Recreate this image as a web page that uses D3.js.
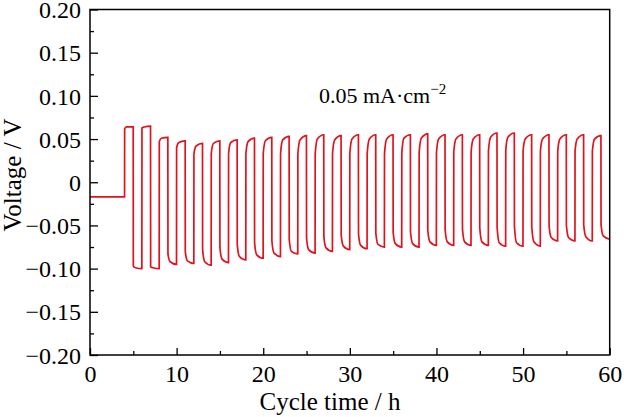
<!DOCTYPE html>
<html>
<head>
<meta charset="utf-8">
<script src="https://cdn.jsdelivr.net/npm/d3@7"></script>
<style>
  html, body { margin: 0; padding: 0; background: #fff; }
  text { font-family: "Liberation Serif", "Times New Roman", serif; fill: #000; }
</style>
</head>
<body>
<svg id="chart" width="624" height="417"></svg>
<script>
// ---- data ----
const restStartH = 0;
const restEndH = 4;
const restVoltage = -0.017;
const cycleStartH = [4,6,8,10,12,14,16,18,20,22,24,26,28,30,32,34,36,38,40,42,44,46,48,50,52,54,56,58];
const halfLengthH = 1;
const kneeOffsetH = 0.25;
// charge (positive) half-cycle: value just after switching, at the knee, at the end
const posStart = [0.062,0.063,0.047,0.040,0.033,0.033,0.033,0.033,0.033,0.033,0.033,0.033,0.033,0.033,0.033,0.033,0.034,0.034,0.034,0.035,0.035,0.036,0.037,0.036,0.036,0.036,0.036,0.036];
const posKnee  = [0.064,0.064,0.051,0.046,0.042,0.045,0.046,0.047,0.048,0.049,0.049,0.050,0.049,0.050,0.050,0.050,0.051,0.051,0.050,0.050,0.050,0.052,0.052,0.050,0.050,0.050,0.050,0.050];
const posEnd   = [0.064,0.065,0.052,0.048,0.045,0.048,0.049,0.051,0.052,0.053,0.054,0.055,0.054,0.055,0.055,0.055,0.055,0.056,0.055,0.055,0.055,0.057,0.057,0.055,0.055,0.055,0.055,0.054];
// discharge (negative) half-cycle
const negStart = [-0.097,-0.098,-0.083,-0.080,-0.078,-0.076,-0.072,-0.070,-0.068,-0.066,-0.065,-0.063,-0.061,-0.060,-0.059,-0.058,-0.057,-0.056,-0.055,-0.054,-0.053,-0.052,-0.051,-0.051,-0.050,-0.050,-0.049,-0.049];
const negKnee  = [-0.099,-0.099,-0.092,-0.091,-0.092,-0.089,-0.086,-0.084,-0.082,-0.080,-0.078,-0.076,-0.074,-0.073,-0.072,-0.071,-0.071,-0.069,-0.069,-0.069,-0.069,-0.070,-0.070,-0.069,-0.064,-0.064,-0.063,-0.062];
const negEnd   = [-0.100,-0.100,-0.095,-0.094,-0.096,-0.093,-0.090,-0.088,-0.086,-0.083,-0.082,-0.080,-0.078,-0.077,-0.075,-0.075,-0.075,-0.073,-0.073,-0.073,-0.073,-0.074,-0.074,-0.074,-0.068,-0.068,-0.068,-0.066];

const xTicks = [0,10,20,30,40,50,60];
const xMinorTicks = [5,15,25,35,45,55];
const yTicks = [-0.20,-0.15,-0.10,-0.05,0,0.05,0.10,0.15,0.20];
const yMinorTicks = [-0.175,-0.125,-0.075,-0.025,0.025,0.075,0.125,0.175];
const xTitle = "Cycle time / h";
const yTitle = "Voltage / V";
const noteMain = "0.05 mA·cm";
const noteSup = "−2";

// ---- layout ----
const svg = d3.select("#chart");
const L = 90, R = 609.7, T = 9.5, B = 355;
const x = d3.scaleLinear().domain([0, 60]).range([L, R]);
const y = d3.scaleLinear().domain([-0.20, 0.20]).range([B, T]);

// build the trace
const pts = [[restStartH, restVoltage], [restEndH - 0.01, restVoltage]];
const eps = 0.012;
cycleStartH.forEach((t0, i) => {
  pts.push([t0, posStart[i]]);
  pts.push([t0 + kneeOffsetH, posKnee[i]]);
  pts.push([t0 + halfLengthH - eps, posEnd[i]]);
  const t1 = t0 + halfLengthH;
  pts.push([t1, negStart[i]]);
  pts.push([t1 + kneeOffsetH, negKnee[i]]);
  pts.push([t1 + halfLengthH - (i === cycleStartH.length - 1 ? 0 : eps), negEnd[i]]);
});

const line = d3.line().x(d => x(d[0])).y(d => y(d[1])).curve(d3.curveMonotoneX);

svg.append("defs").append("clipPath").attr("id", "clip")
  .append("rect").attr("x", L).attr("y", T).attr("width", R - L).attr("height", B - T);

svg.append("path")
  .datum(pts)
  .attr("d", line)
  .attr("fill", "none")
  .attr("stroke", "#e2121c")
  .attr("stroke-width", 1.7)
  .attr("clip-path", "url(#clip)");

// frame
svg.append("rect").attr("x", L).attr("y", T).attr("width", R - L).attr("height", B - T)
  .attr("fill", "none").attr("stroke", "#000").attr("stroke-width", 1.5);

// x axis
const fmtY = d => d === 0 ? "0" : (d < 0 ? "−" : "") + Math.abs(d).toFixed(2);
const xAxis = d3.axisBottom(x).tickValues(xTicks).tickSize(-7).tickPadding(10).tickFormat(d3.format("d"));
const gx = svg.append("g").attr("transform", `translate(0,${B})`).call(xAxis);
gx.select(".domain").remove();
gx.selectAll("line").attr("stroke", "#000").attr("stroke-width", 1.3);
gx.selectAll("text").attr("font-size", 24).attr("font-family", "Liberation Serif");
const gxm = svg.append("g").attr("transform", `translate(0,${B})`)
  .call(d3.axisBottom(x).tickValues(xMinorTicks).tickSize(-4).tickFormat(""));
gxm.select(".domain").remove();
gxm.selectAll("line").attr("stroke", "#000").attr("stroke-width", 1.3);

// y axis
const yAxis = d3.axisLeft(y).tickValues(yTicks).tickSize(-8).tickPadding(9).tickFormat(fmtY);
const gy = svg.append("g").attr("transform", `translate(${L},0)`).call(yAxis);
gy.select(".domain").remove();
gy.selectAll("line").attr("stroke", "#000").attr("stroke-width", 1.3);
gy.selectAll("text").attr("font-size", 24).attr("font-family", "Liberation Serif").attr("dy", "0.34em");
const gym = svg.append("g").attr("transform", `translate(${L},0)`)
  .call(d3.axisLeft(y).tickValues(yMinorTicks).tickSize(-4).tickFormat(""));
gym.select(".domain").remove();
gym.selectAll("line").attr("stroke", "#000").attr("stroke-width", 1.3);

// titles
svg.append("text").attr("x", 330).attr("y", 410)
  .attr("text-anchor", "middle").attr("font-size", 25).text(xTitle);
svg.append("text").attr("transform", "translate(21,175) rotate(-90)")
  .attr("text-anchor", "middle").attr("font-size", 25).text(yTitle);

// annotation
const note = svg.append("text").attr("x", 319).attr("y", 103).attr("font-size", 22);
note.append("tspan").text(noteMain);
note.append("tspan").attr("font-size", 15).attr("dy", -9).text(noteSup);
</script>
</body>
</html>
